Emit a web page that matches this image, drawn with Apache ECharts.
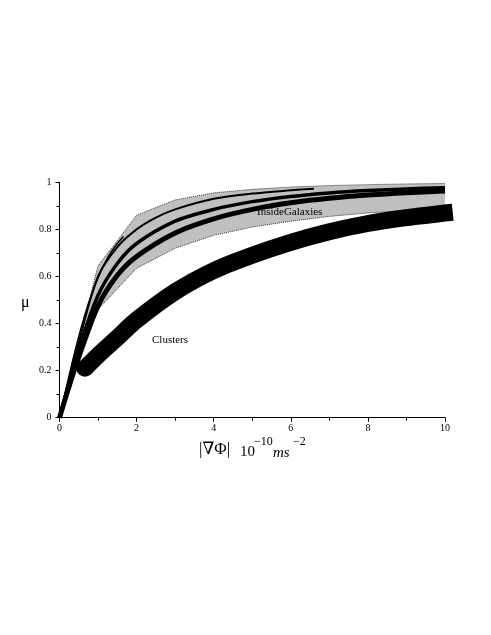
<!DOCTYPE html>
<html>
<head>
<meta charset="utf-8">
<script src="https://cdn.jsdelivr.net/npm/echarts@6/dist/echarts.min.js"></script>
<style>html,body{margin:0;padding:0;background:#fff}#c{width:491px;height:635px}</style>
</head>
<body>
<div id="c"></div>
<script>
// ---- data ----
const bandX      = [0, 1, 2, 3, 4, 5, 6, 7, 8, 9, 10];
const bandUpper  = [0, 0.645, 0.86, 0.925, 0.955, 0.97, 0.98, 0.986, 0.99, 0.993, 0.995];
const bandLower  = [0, 0.46, 0.635, 0.72, 0.775, 0.81, 0.835, 0.855, 0.87, 0.88, 0.89];

const thin1X = [0, 0.25, 0.5, 0.75, 1, 1.25, 1.5, 1.66];
const thin1Y = [0, 0.18, 0.345, 0.485, 0.595, 0.68, 0.74, 0.77];

const thin2X = [0, 0.5, 1, 1.5, 2, 2.5, 3, 4, 5, 6, 6.6];
const thin2Y = [0, 0.32, 0.6, 0.725, 0.8, 0.85, 0.885, 0.93, 0.952, 0.966, 0.973];

const thickAX = [0, 0.5, 1, 1.5, 2, 3, 4, 5, 6, 7, 8, 9, 10];
const thickAY = [0, 0.29, 0.52, 0.655, 0.74, 0.835, 0.885, 0.918, 0.94, 0.955, 0.965, 0.972, 0.977];

const thickBX = [0, 0.5, 1, 1.5, 2, 3, 4, 5, 6, 7, 8, 9, 10];
const thickBY = [0, 0.26, 0.475, 0.605, 0.685, 0.785, 0.845, 0.885, 0.913, 0.932, 0.946, 0.956, 0.963];

const clusterX = [0.66, 1, 1.5, 2, 3, 4, 5, 6, 7, 8, 9, 10.2];
const clusterY = [0.21, 0.265, 0.34, 0.415, 0.535, 0.625, 0.69, 0.745, 0.79, 0.825, 0.85, 0.873];

const xTicks = [0, 2, 4, 6, 8, 10];
const yTicks = [0, 0.2, 0.4, 0.6, 0.8, 1];

const pairs = (xs, ys) => xs.map((x, i) => [x, ys[i]]);
const serif = '"Liberation Serif", "DejaVu Serif", serif';

const chart = echarts.init(document.getElementById('c'), null, {renderer: 'canvas'});

const curve = (name, xs, ys, w) => ({
  name, type: 'line', data: pairs(xs, ys), smooth: 0.3, symbol: 'none',
  lineStyle: {color: '#000', width: w, cap: 'butt'}, z: 5, silent: true
});

chart.setOption({
  animation: false,
  backgroundColor: '#fff',
  grid: {left: 59.5, right: 46, top: 182.3, bottom: 217.3, containLabel: false},
  xAxis: {
    type: 'value', min: xTicks[0], max: xTicks[xTicks.length - 1], interval: 2,
    axisLine: {show: true, lineStyle: {color: '#000', width: 1}},
    axisTick: {show: true, inside: false, length: 4, lineStyle: {color: '#000'}},
    minorTick: {show: true, splitNumber: 2, length: 3, lineStyle: {color: '#000'}},
    splitLine: {show: false},
    axisLabel: {color: '#000', fontFamily: serif, fontSize: 10, margin: 6}
  },
  yAxis: {
    type: 'value', min: yTicks[0], max: yTicks[yTicks.length - 1], interval: 0.2,
    axisLine: {show: true, lineStyle: {color: '#000', width: 1}},
    axisTick: {show: true, inside: false, length: 4, lineStyle: {color: '#000'}},
    minorTick: {show: true, splitNumber: 2, length: 3, lineStyle: {color: '#000'}},
    splitLine: {show: false},
    axisLabel: {color: '#000', fontFamily: serif, fontSize: 10, margin: 8}
  },
  series: [
    {
      type: 'custom', silent: true, z: 1,
      data: [0],
      renderItem: function (params, api) {
        const pts = [];
        for (let i = 0; i < bandX.length; i++) pts.push(api.coord([bandX[i], bandUpper[i]]));
        for (let i = bandX.length - 1; i >= 0; i--) pts.push(api.coord([bandX[i], bandLower[i]]));
        return {type: 'polygon', shape: {points: pts}, style: {fill: '#c0c0c0', stroke: null}};
      }
    },
    {type: 'line', data: pairs(bandX, bandUpper), symbol: 'none', z: 2, silent: true,
     lineStyle: {color: '#333', width: 1, type: 'dotted'}},
    {type: 'line', data: pairs(bandX, bandLower), symbol: 'none', z: 2, silent: true,
     lineStyle: {color: '#333', width: 1, type: 'dotted'}},
    curve('thin1', thin1X, thin1Y, 1.5),
    curve('thin2', thin2X, thin2Y, 2),
    curve('thickA', thickAX, thickAY, 3.5),
    curve('thickB', thickBX, thickBY, 5),
    {
      name: 'Clusters', type: 'line', data: pairs(clusterX, clusterY), smooth: 0.3,
      symbol: 'none', clip: false, z: 6, silent: true,
      lineStyle: {color: '#000', width: 17, cap: 'butt', join: 'round'}
    },
    {
      type: 'scatter', data: [[clusterX[0], clusterY[0]]], symbol: 'circle', symbolSize: 17,
      itemStyle: {color: '#000', opacity: 1}, z: 7, silent: true, clip: false
    }
  ],
  graphic: [
    {type: 'text', left: 257, top: 207, z: 100,
     style: {text: 'InsideGalaxies', font: '11px ' + serif, fill: '#000'}},
    {type: 'text', left: 152, top: 335, z: 100,
     style: {text: 'Clusters', font: '11px ' + serif, fill: '#000'}},
    {type: 'text', left: 21, top: 295, z: 100,
     style: {text: 'μ', font: '16px ' + serif, fill: '#000'}},
    {type: 'text', left: 199, top: 441, z: 100,
     style: {text: '|∇Φ|', font: '17px ' + serif, fill: '#000'}},
    {type: 'text', left: 240, top: 445, z: 100,
     style: {text: '10', font: '15px ' + serif, fill: '#000'}},
    {type: 'text', left: 254, top: 436, z: 100,
     style: {text: '−10', font: '12px ' + serif, fill: '#000'}},
    {type: 'text', left: 273, top: 446, z: 100,
     style: {text: 'ms', font: 'italic 15px ' + serif, fill: '#000'}},
    {type: 'text', left: 293, top: 436, z: 100,
     style: {text: '−2', font: '12px ' + serif, fill: '#000'}}
  ]
});
</script>
</body>
</html>
